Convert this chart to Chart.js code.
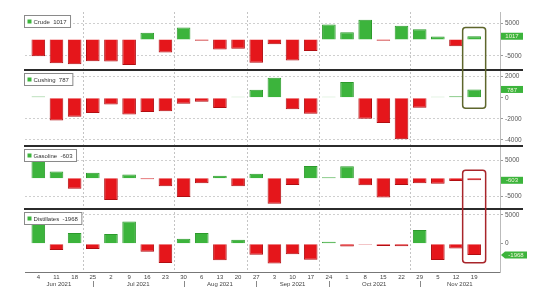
<!DOCTYPE html>
<html>
<head>
<meta charset="utf-8">
<script src="https://cdn.jsdelivr.net/npm/chart.js@4.4.0/dist/chart.umd.min.js"></script>
<style>
    html, body { margin: 0; padding: 0; background: #fff; }
    #wrap { position: relative; width: 536px; height: 294px; }
</style>
</head>
<body>
<div id="wrap"><canvas id="stocksChart" width="536" height="294"></canvas></div>
<script>
//Veckor (fredagar) jun-nov 2021.
const days = ["4", "11", "18", "25", "2", "9", "16", "23", "30", "6", "13", "20", "27", "3", "10", "17", "24", "1", "8", "15", "22", "29", "5", "12", "19"];
const months = ["Jun 2021", "Jul 2021", "Aug 2021", "Sep 2021", "Oct 2021", "Nov 2021"];
//Index för sista veckan i varje månad.
const monthEnds = [3, 8, 12, 16, 21];

//Lagerförändringar (tusen fat).
const crude = [-5160, -7320, -7630, -6700, -6800, -7830, 2070, -4020, 3710, -400, -3090, -2880, -7200, -1450, -6490, -3500, 4640, 2260, 6090, -400, 4230, 3190, 930, -2070, 1017];
const cushing = [120, -2150, -1800, -1450, -630, -1580, -1360, -1270, -570, -380, -980, 40, 760, 1900, -1100, -1520, 80, 1490, -2000, -2380, -3930, -950, 30, 150, 787];
const gasoline = [7000, 1880, -3000, 1500, -6100, 1000, -120, -2250, -5300, -1400, 700, -2250, 1200, -7200, -1900, 3400, 190, 3300, -2000, -5400, -1900, -1400, -1600, -800, -603];
const distillates = [4400, -1100, 1860, -920, 1690, 3880, -1390, -3360, 870, 1860, -2900, 700, -1910, -3430, -1860, -2790, 350, -470, -100, -400, -430, 2380, -2840, -820, -1968];

//Etiketter på högeraxlarna.
const crudeTicks = [5000, -5000];
const cushingTicks = [2000, 0, -2000, -4000];
const gasolineTicks = [5000, -5000];
const distillatesTicks = [5000, 0];

const GREEN = "#3cb43c";
const GREEN_EDGE = "#2c9a2c";
const RED = "#e5161b";
const RED_EDGE = "#b10e12";
const FONT = "'Liberation Sans', Arial, sans-serif";

Chart.defaults.font.family = FONT;

//Paneler uppifrån och ner.
const panels = [
    { id: "yCrude", name: "Crude", values: crude, ticks: crudeTicks, min: -9400, max: 8500, weight: 58 },
    { id: "yCushing", name: "Cushing", values: cushing, ticks: cushingTicks, min: -4570, max: 2630, weight: 76 },
    { id: "yGasoline", name: "Gasoline", values: gasoline, ticks: gasolineTicks, min: -8640, max: 9000, weight: 63 },
    { id: "yDistillates", name: "Distillates", values: distillates, ticks: distillatesTicks, min: -4930, max: 6040, weight: 63 }
];

const last = arr => arr[arr.length - 1];

/**Ritar avdelare, månader, legender, värdeetiketter och ramar.
 * @type {Object}
 */
const panelDecor = {
    id: "panelDecor",
    afterDraw(chart) {
        const ctx = chart.ctx;
        const xs = chart.scales.x;
        const area = chart.chartArea;
        ctx.save();

        //Tjocka linjer mellan panelerna.
        ctx.strokeStyle = "#2b2b2b";
        ctx.lineWidth = 2;
        panels.slice(1).forEach(p => {
            const y = Math.round(chart.scales[p.id].top);
            ctx.beginPath();
            ctx.moveTo(area.left - 1, y);
            ctx.lineTo(523, y);
            ctx.stroke();
        });

        //Månadsnamn mellan månadsgränserna.
        const bounds = [area.left, ...monthEnds.map(i => xs.getPixelForValue(i)), area.right];
        ctx.fillStyle = "#444";
        ctx.font = "6px " + FONT;
        ctx.textAlign = "center";
        ctx.textBaseline = "middle";
        months.forEach((m, i) => {
            ctx.fillText(m, (bounds[i] + bounds[i + 1]) / 2, xs.top + 12);
        });
        ctx.strokeStyle = "#888";
        ctx.lineWidth = 1;
        monthEnds.forEach(i => {
            const x = Math.round(xs.getPixelForValue(i)) + 0.5;
            ctx.beginPath();
            ctx.moveTo(x, xs.top + 9);
            ctx.lineTo(x, xs.top + 15);
            ctx.stroke();
        });

        //Legend i varje panel.
        panels.forEach(p => {
            const sc = chart.scales[p.id];
            const text = p.name + "  " + last(p.values);
            ctx.font = "6px " + FONT;
            const w = ctx.measureText(text).width + 13;
            const bx = area.left - 0.5, by = Math.round(sc.top) + 3.5;
            ctx.fillStyle = "#fff";
            ctx.fillRect(bx, by, w, 12);
            ctx.strokeStyle = "#8a8a8a";
            ctx.strokeRect(bx, by, w, 12);
            ctx.fillStyle = GREEN;
            ctx.fillRect(bx + 3, by + 4, 4, 4);
            ctx.fillStyle = "#333";
            ctx.textAlign = "left";
            ctx.fillText(text, bx + 9, by + 6.5);
        });

        //Senaste värde vid högeraxeln.
        panels.forEach((p, k) => {
            const sc = chart.scales[p.id];
            const y = sc.getPixelForValue(last(p.values));
            const x0 = sc.left + 1;
            ctx.fillStyle = GREEN;
            ctx.beginPath();
            if (k === 3) {
                ctx.moveTo(x0 + 4, y - 3.5);
                ctx.lineTo(x0 + 26, y - 3.5);
                ctx.lineTo(x0 + 26, y + 3.5);
                ctx.lineTo(x0 + 4, y + 3.5);
                ctx.lineTo(x0, y);
            } else {
                ctx.rect(x0, y - 3.5, 22, 7);
            }
            ctx.fill();
            ctx.fillStyle = "#f4f6dc";
            ctx.font = "6px " + FONT;
            ctx.textAlign = "center";
            ctx.fillText(String(last(p.values)), x0 + (k === 3 ? 15 : 11), y + 0.5);
        });

        //Ramar runt senaste veckan.
        const cx = xs.getPixelForValue(days.length - 1);
        const frame = (top, bottom, color) => {
            ctx.strokeStyle = color;
            ctx.lineWidth = 1.5;
            ctx.beginPath();
            ctx.roundRect(cx - 11.5, top, 23, bottom - top, 3);
            ctx.stroke();
        };
        frame(chart.scales.yCrude.getPixelForValue(3700), chart.scales.yCushing.getPixelForValue(-1000), "#5e662c");
        frame(chart.scales.yGasoline.getPixelForValue(2200), chart.scales.yDistillates.getPixelForValue(-3300), "#a8252a");

        ctx.restore();
    }
};

/**Skapar stapeldiagrammet med fyra staplade y-axlar.
 * @function
 */
function createStocksChart() {
    const ctx = document.getElementById("stocksChart");

    const scales = {
        x: {
            type: "linear",
            min: -0.21,
            max: 24.9,
            afterBuildTicks: s => { s.ticks = days.map((d, i) => ({ value: i })); },
            afterFit: s => { s.height = 22; },
            ticks: {
                callback: v => days[v],
                autoSkip: false,
                maxRotation: 0,
                padding: 2,
                color: "#444",
                font: { size: 6 }
            },
            grid: {
                color: c => (c.tick && monthEnds.includes(c.tick.value)) ? "#c4c4c4" : "transparent",
                drawTicks: false
            },
            border: { color: "#777", dash: [2, 2] }
        }
    };

    panels.forEach(p => {
        scales[p.id] = {
            type: "linear",
            position: "right",
            stack: "panels",
            stackWeight: p.weight,
            min: p.min,
            max: p.max,
            afterBuildTicks: s => { s.ticks = p.ticks.map(v => ({ value: v })); },
            afterFit: s => { s.width = 36; },
            ticks: {
                callback: v => String(v),
                padding: 2,
                color: "#555",
                font: { size: 6.5 }
            },
            grid: {
                color: c => (c.tick && c.tick.value === 0) ? "transparent" : "#cfcfcf",
                tickLength: 3,
                tickColor: "#999"
            },
            border: { color: "#bbb", dash: [2, 2] }
        };
    });

    new Chart(ctx, {
        type: "bar",
        data: {
            datasets: panels.map(p => ({
                label: p.name,
                data: p.values.map((v, i) => ({ x: i, y: v })),
                yAxisID: p.id,
                grouped: false,
                backgroundColor: p.values.map(v => v >= 0 ? GREEN : RED),
                borderColor: p.values.map(v => v >= 0 ? GREEN_EDGE : RED_EDGE),
                borderWidth: 1,
                minBarLength: 1,
                barPercentage: 0.75,
                categoryPercentage: 1
            }))
        },
        options: {
            responsive: false,
            animation: false,
            layout: { padding: { left: 25, top: 12, right: 0, bottom: 0 } },
            plugins: {
                legend: { display: false },
                tooltip: { enabled: false }
            },
            scales: scales
        },
        plugins: [panelDecor]
    });
}

//Kör diagrammet.
createStocksChart();
</script>
</body>
</html>
